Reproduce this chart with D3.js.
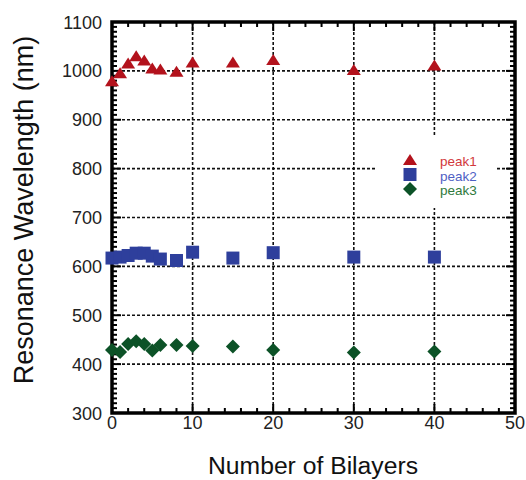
<!DOCTYPE html>
<html>
<head>
<meta charset="utf-8">
<script src="https://cdn.jsdelivr.net/npm/d3@7"></script>
<style>
  body { margin: 0; background: #fff; }
  text { font-family: "Liberation Sans", Arial, sans-serif; }
</style>
</head>
<body>
<div id="svg"></div>
<script>
// datos
const bilayers = [0, 1, 2, 3, 4, 5, 6, 8, 10, 15, 20, 30, 40];
const peak1 = [979, 995, 1015, 1030, 1021, 1005, 1003, 998, 1017, 1017, 1022, 1002, 1011];
const peak2 = [617, 619, 622, 627, 627, 621, 615, 612, 629, 617, 628, 619, 619];
const peak3 = [429, 425, 441, 447, 441, 428, 439, 439, 437, 436, 429, 424, 426];
const seriesNames = ["peak1", "peak2", "peak3"];
const markerColors = ["#b3121c", "#2e3f9c", "#0c5227"];
const textColors = ["#d2383c", "#4f5fc4", "#2f7a3c"];
const xTicks = [0, 10, 20, 30, 40, 50];
const yTicks = [300, 400, 500, 600, 700, 800, 900, 1000, 1100];

const width = 526, height = 480;
const margin = { top: 22, right: 11, bottom: 67, left: 112 };

const svg = d3.select("#svg").append("svg")
    .attr("width", width)
    .attr("height", height);

const x = d3.scaleLinear().domain([0, 50]).range([margin.left, width - margin.right]);
const y = d3.scaleLinear().domain([300, 1100]).range([height - margin.bottom, margin.top]);

// grid punteada
const grid = svg.append("g")
    .attr("stroke", "#111")
    .attr("stroke-width", 1.6)
    .attr("stroke-dasharray", "3,2");
grid.selectAll("line.v")
    .data(xTicks.slice(1, -1))
    .join("line")
    .attr("x1", d => x(d)).attr("x2", d => x(d))
    .attr("y1", y(1100)).attr("y2", y(300));
grid.selectAll("line.h")
    .data(yTicks.slice(1, -1))
    .join("line")
    .attr("x1", x(0)).attr("x2", x(50))
    .attr("y1", d => y(d)).attr("y2", d => y(d));

// caja blanca de la leyenda
svg.append("rect")
    .attr("x", 375).attr("y", 137)
    .attr("width", 120).attr("height", 71)
    .attr("fill", "#fff");

// ticks hacia adentro
const ticks = svg.append("g").attr("stroke", "#000").attr("stroke-width", 2);
const xMinor = d3.range(0, 51, 2);
const yMinor = d3.range(300, 1101, 10);
ticks.selectAll("line.xb")
    .data(xMinor)
    .join("line")
    .attr("x1", d => x(d)).attr("x2", d => x(d))
    .attr("y1", y(300)).attr("y2", d => y(300) - (d % 10 === 0 ? 9 : 5));
ticks.selectAll("line.xt")
    .data(xMinor)
    .join("line")
    .attr("x1", d => x(d)).attr("x2", d => x(d))
    .attr("y1", y(1100)).attr("y2", d => y(1100) + (d % 10 === 0 ? 9 : 5));
ticks.selectAll("line.yl")
    .data(yMinor)
    .join("line")
    .attr("y1", d => y(d)).attr("y2", d => y(d))
    .attr("x1", x(0)).attr("x2", d => x(0) + (d % 100 === 0 ? 9 : 5));
ticks.selectAll("line.yr")
    .data(yMinor)
    .join("line")
    .attr("y1", d => y(d)).attr("y2", d => y(d))
    .attr("x1", x(50)).attr("x2", d => x(50) - (d % 100 === 0 ? 9 : 5));

// marco
svg.append("rect")
    .attr("x", x(0)).attr("y", y(1100))
    .attr("width", x(50) - x(0)).attr("height", y(300) - y(1100))
    .attr("fill", "none")
    .attr("stroke", "#000")
    .attr("stroke-width", 3.5);

// etiquetas de ticks
svg.append("g").selectAll("text")
    .data(xTicks)
    .join("text")
    .attr("x", d => x(d))
    .attr("y", y(300) + 16)
    .attr("text-anchor", "middle")
    .attr("font-size", 18)
    .attr("fill", "#222")
    .text(d => d);
svg.append("g").selectAll("text")
    .data(yTicks)
    .join("text")
    .attr("x", x(0) - 10)
    .attr("y", d => y(d) + 6.5)
    .attr("text-anchor", "end")
    .attr("font-size", 18)
    .attr("fill", "#222")
    .text(d => d);

// titulos
svg.append("text")
    .attr("x", 313)
    .attr("y", 474)
    .attr("text-anchor", "middle")
    .attr("font-size", 23)
    .attr("textLength", 210)
    .attr("lengthAdjust", "spacingAndGlyphs")
    .attr("fill", "#111")
    .text("Number of Bilayers");
svg.append("text")
    .attr("transform", "translate(33, 210) rotate(-90)")
    .attr("text-anchor", "middle")
    .attr("font-size", 27)
    .attr("fill", "#111")
    .text("Resonance Wavelength (nm)");

// formas de los marcadores
const shapes = [
    (cx, cy) => `M${cx},${cy - 6}L${cx + 7},${cy + 5}L${cx - 7},${cy + 5}Z`,
    (cx, cy) => `M${cx - 6.5},${cy - 6.5}h13v13h-13Z`,
    (cx, cy) => `M${cx},${cy - 7}L${cx + 7},${cy}L${cx},${cy + 7}L${cx - 7},${cy}Z`
];

const series = [peak1, peak2, peak3];
series.forEach((vals, i) => {
    svg.append("g")
        .selectAll("path")
        .data(bilayers.map((b, j) => ({ b: b, v: vals[j] })))
        .join("path")
        .attr("d", d => shapes[i](x(d.b), y(d.v)))
        .attr("fill", markerColors[i]);
});

// leyenda
const legend = svg.append("g");
seriesNames.forEach((name, i) => {
    const ly = 160 + i * 14.5;
    legend.append("path")
        .attr("d", shapes[i](410, ly))
        .attr("fill", markerColors[i]);
    legend.append("text")
        .attr("x", 440)
        .attr("y", ly + 6)
        .attr("font-size", 13.5)
        .attr("fill", textColors[i])
        .text(name);
});
</script>
</body>
</html>
